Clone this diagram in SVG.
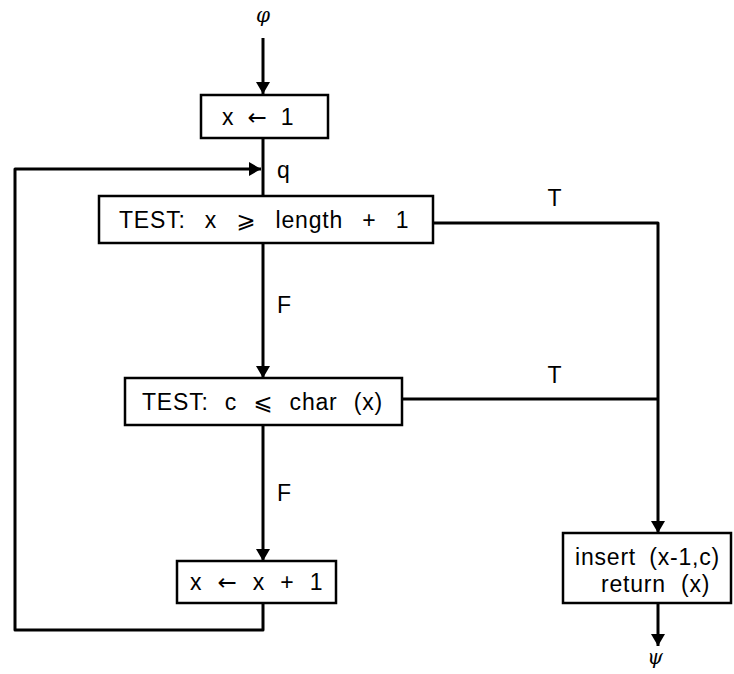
<svg xmlns="http://www.w3.org/2000/svg" width="734" height="674" viewBox="0 0 734 674">
<style>
.box{fill:#fff;stroke:#000;stroke-width:2.5}
.ln{fill:none;stroke:#000;stroke-width:3;stroke-linejoin:round}
.t{font-family:"Liberation Sans",Arial,sans-serif;font-size:23px;letter-spacing:0.8px;fill:#000}
.s{font-family:"DejaVu Sans",sans-serif}
.g{font-family:"DejaVu Serif","Liberation Serif",serif;font-style:italic;font-size:20px;fill:#000}
</style>
<defs>
<marker id="ah" viewBox="0 0 12 16" refX="12" refY="8" markerWidth="12" markerHeight="16" markerUnits="userSpaceOnUse" orient="auto">
<path d="M0,1 L12,8 L0,15 Z" fill="#000"/>
</marker>
</defs>
<rect width="734" height="674" fill="#fff"/>
<g id="connectors">
<line class="ln" x1="263" y1="38" x2="263" y2="94" marker-end="url(#ah)"/>
<line class="ln" x1="263" y1="138" x2="263" y2="196"/>
<line class="ln" x1="263" y1="243" x2="263" y2="378" marker-end="url(#ah)"/>
<line class="ln" x1="263" y1="425" x2="263" y2="561" marker-end="url(#ah)"/>
<polyline class="ln" points="263,603 263,630 15,630 15,169 261,169" marker-end="url(#ah)"/>
<polyline class="ln" points="433,223 658,223 658,533" marker-end="url(#ah)"/>
<line class="ln" x1="402" y1="399" x2="658" y2="399"/>
<line class="ln" x1="658" y1="603" x2="658" y2="646" marker-end="url(#ah)"/>
<text class="g" x="263" y="22" text-anchor="middle">φ</text>
<text class="t" x="277" y="178">q</text>
<text class="t" x="555" y="206" text-anchor="middle">T</text>
<text class="t" x="555" y="383" text-anchor="middle">T</text>
<text class="t" x="277" y="313">F</text>
<text class="t" x="277" y="501">F</text>
<text class="g" x="655" y="664" text-anchor="middle">ψ</text>
</g>
<g id="n1">
<rect class="box" x="201" y="95" width="127" height="43"/>
<text class="t" x="222" y="125" word-spacing="6">x <tspan class="s">←</tspan> 1</text>
</g>
<g id="n2">
<rect class="box" x="99" y="196" width="334" height="47"/>
<text class="t" x="119" y="228" word-spacing="12">TEST: x <tspan class="s">⩾</tspan> length + 1</text>
</g>
<g id="n3">
<rect class="box" x="125" y="378" width="277" height="47"/>
<text class="t" x="142" y="410" word-spacing="9">TEST: c <tspan class="s">⩽</tspan> char (x)</text>
</g>
<g id="n4">
<rect class="box" x="177" y="561" width="159" height="42"/>
<text class="t" x="190" y="590" word-spacing="8">x <tspan class="s">←</tspan> x + 1</text>
</g>
<g id="n5">
<rect class="box" x="563" y="533" width="168" height="70"/>
<text class="t" x="575" y="565" word-spacing="6">insert (x-1,c)</text>
<text class="t" x="601" y="592" word-spacing="8">return (x)</text>
</g>
</svg>
